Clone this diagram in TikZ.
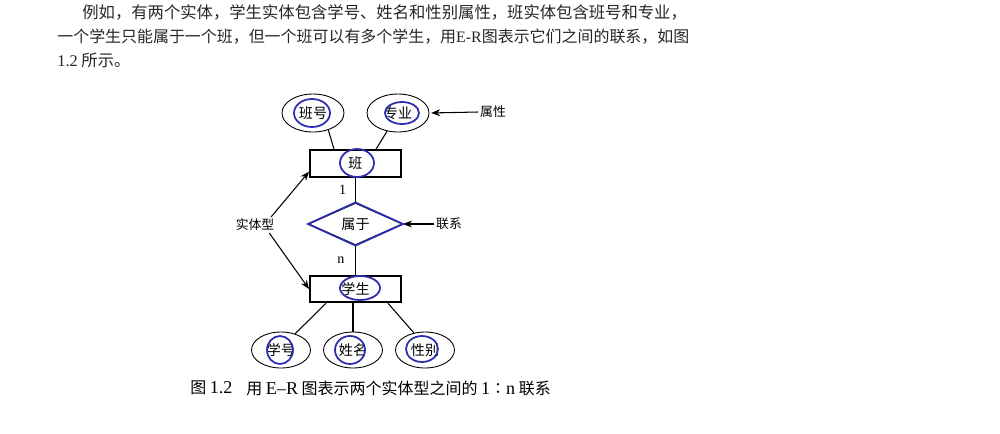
\documentclass[tikz,border=0pt]{standalone}
\usepackage{fontspec}
\setmainfont{Noto Sans CJK SC}
\newfontfamily\lat{Liberation Serif}
\usepackage{xcolor}
\usetikzlibrary{arrows.meta,positioning,shapes.geometric}
\definecolor{pen}{RGB}{45,45,175}
\newcommand\capl[1]{{\lat\fontsize{10.3pt}{11pt}\selectfont #1}}

\begin{document}
\begin{tikzpicture}[
  x=0.02cm, y=-0.02cm,
  font=\fontsize{8pt}{9pt}\selectfont,
  para/.style={anchor=west, inner sep=0pt, font=\fontsize{9.3pt}{11pt}\selectfont, text=black!85},
  attr/.style={draw, ellipse, line width=0.5pt, minimum width=1.24cm, minimum height=0.76cm, inner sep=0pt},
  entity/.style={draw, line width=1.1pt, minimum width=1.82cm, minimum height=0.53cm, inner sep=0pt},
  rel/.style={draw, diamond, line width=0.6pt, minimum width=1.88cm, minimum height=0.84cm, inner sep=0pt},
  tag/.style={font=\fontsize{7.3pt}{8pt}\selectfont, inner sep=1pt},
  note/.style={-{Stealth[length=1.8mm, width=1.4mm]}, line width=0.6pt},
  link/.style={line width=0.6pt},
  ring/.style={pen, line width=1pt},
  capt/.style={anchor=west, inner sep=0pt, font=\fontsize{9.1pt}{10pt}\selectfont},
]
\useasboundingbox (0,0) rectangle (1000,433);
% paragraph
\node[para] (p1) at (82,12) {例如，有两个实体，学生实体包含学号、姓名和性别属性，班实体包含班号和专业，};
\node[para, font=\fontsize{9.08pt}{11pt}\selectfont] (p2) at (57,37) {一个学生只能属于一个班，但一个班可以有多个学生，用{\lat E-R}图表示它们之间的联系，如图};
\node[para] (p3) at (57,60) {{\lat 1.2} 所示。};
% entities, relation, attributes
\node[attr] (bh) at (313,113) {班号};
\node[attr] (zy) at (398,113) {专业};
\node[entity] (ban) at (355.5,163.5) {班};
\node[rel] (sy) at (355.5,224) {属于};
\node[entity] (xs) at (355.5,289) {学生};
\node[attr, minimum width=1.18cm, minimum height=0.72cm] (xh) at (281,350) {学号};
\node[attr, minimum width=1.18cm, minimum height=0.72cm] (xm) at (353,350) {姓名};
\node[attr, minimum width=1.18cm, minimum height=0.72cm] (xb) at (425,350) {性别};
% side labels
\node[tag] (sx) at (493,112) {属性};
\node[tag] (lx) at (449,224) {联系};
\node[tag] (st) at (255,225) {实体型};
% links
\draw[link] (bh.-48) -- ([xshift=0.5cm]ban.north west);
\draw[link] (zy.-121) -- ([xshift=-0.52cm]ban.north east);
\draw[link] (ban) -- node[left=5pt, inner sep=0pt]{\lat 1} (sy);
\draw[link] (sy) -- node[left=6pt, inner sep=0pt]{\lat n} (xs);
\draw[link] ([xshift=0.34cm]xs.south west) -- (xh.49);
\draw[link] (xm.north |- xs.south) -- (xm.north);
\draw[link] ([xshift=-0.28cm]xs.south east) -- (xb.123);
% pointers
\draw[note, shorten >=1pt] (sx.west) -- (zy.east);
\draw[note] (lx.west) -- (sy.east);
\draw[note] ([xshift=-3pt]st.north east) -- (ban.190);
\draw[note] ([xshift=-4pt]st.south east) -- (xs.west);
% pen marks
\draw[ring] (312,113) ellipse [x radius=0.36cm, y radius=0.28cm];
\draw[ring] (402,113) ellipse [x radius=0.34cm, y radius=0.22cm];
\draw[ring] (357,163) ellipse [x radius=0.34cm, y radius=0.28cm];
\draw[ring] (360,288) ellipse [x radius=0.40cm, y radius=0.24cm];
\draw[ring] (280,350) ellipse [x radius=0.26cm, y radius=0.28cm];
\draw[ring] (350,350) ellipse [x radius=0.30cm, y radius=0.28cm];
\draw[ring] (422,349) ellipse [x radius=0.32cm, y radius=0.26cm];
\draw[ring] (sy.north) -- (sy.east) -- (sy.south) -- (sy.west) -- cycle;
% caption
\node[capt] (c1) at (190,388) {图 \capl{1.2}};
\node[capt] (c2) at (246,388) {用 \capl{E–R} 图表示两个实体型之间的 \capl{1}∶\capl{n} 联系};
\end{tikzpicture}
\end{document}
